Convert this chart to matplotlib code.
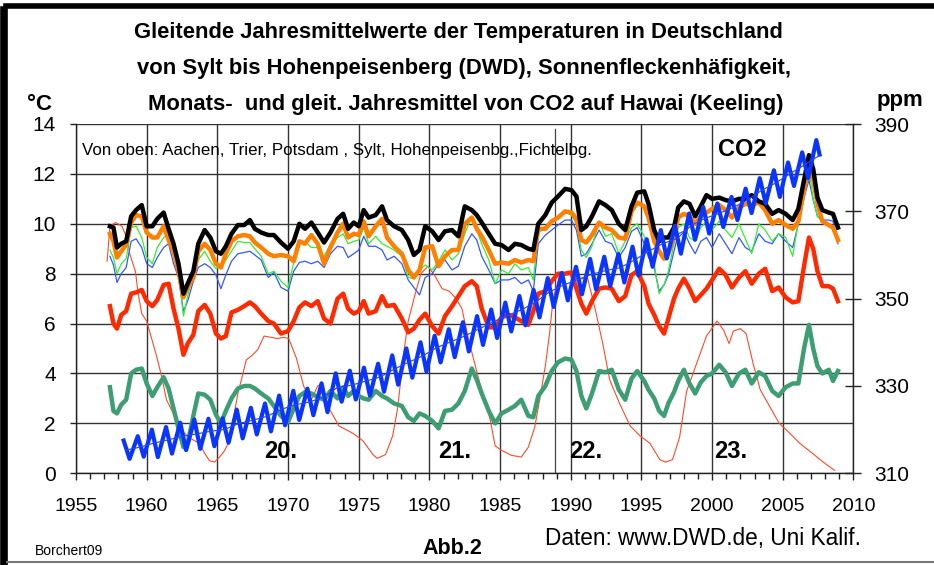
import matplotlib
matplotlib.use("Agg")
import matplotlib.pyplot as plt
from matplotlib.lines import Line2D
from matplotlib.ticker import MultipleLocator

plt.rcParams['font.family'] = ['Liberation Sans', 'DejaVu Sans']

W, H = 934, 565

# common time grid for the temperature curves (decimal years)
t_temp = [1957.4, 1957.65, 1957.9, 1958.2, 1958.55, 1958.9, 1959.25, 1959.65, 1960.0, 1960.4,
          1960.75, 1961.2, 1961.55, 1961.9, 1962.25, 1962.6, 1962.9, 1963.3, 1963.65, 1964.1,
          1964.5, 1964.9, 1965.25, 1965.6, 1966.0, 1966.45, 1966.9, 1967.3, 1967.65, 1968.1,
          1968.6, 1969.0, 1969.5, 1970.0, 1970.4, 1970.8, 1971.2, 1971.65, 1972.1, 1972.55,
          1973.0, 1973.5, 1973.9, 1974.25, 1974.65, 1975.0, 1975.35, 1975.7, 1976.2, 1976.65,
          1977.0, 1977.5, 1978.05, 1978.5, 1978.9, 1979.3, 1979.7, 1980.2, 1980.65, 1981.1,
          1981.6, 1982.05, 1982.5, 1983.0, 1983.35, 1983.7, 1984.2, 1984.65, 1985.1, 1985.6,
          1986.05, 1986.5, 1987.0, 1987.35, 1987.7, 1988.2, 1988.65, 1989.1, 1989.6, 1990.05,
          1990.4, 1990.75, 1991.1, 1991.5, 1992.0, 1992.45, 1992.9, 1993.4, 1993.85, 1994.3,
          1994.7, 1995.2, 1995.5, 1995.9, 1996.25, 1996.6, 1996.9, 1997.3, 1997.6, 1998.0,
          1998.4, 1998.8, 1999.2, 1999.6, 2000.0, 2000.5, 2000.95, 2001.4, 2001.9, 2002.35,
          2002.8, 2003.3, 2003.75, 2004.25, 2004.7, 2005.2, 2005.7, 2006.1, 2006.5, 2006.85,
          2007.15, 2007.45, 2007.8, 2008.25, 2008.55, 2008.9]

aachen = [9.9, 9.85, 9.05, 9.2, 9.3, 10.3, 10.55, 10.75, 9.9, 9.9,
          10.2, 10.45, 9.8, 9.2, 8.4, 7.2, 7.6, 8.1, 9.2, 9.75,
          9.45, 8.9, 8.8, 9.1, 9.6, 9.95, 9.95, 10.15, 9.8, 9.65,
          9.55, 9.55, 9.25, 9.0, 9.3, 10.0, 9.8, 10.05, 9.65, 9.25,
          9.65, 10.2, 10.4, 9.8, 10.05, 9.9, 10.55, 10.25, 10.35, 10.7,
          10.15, 9.9, 9.75, 9.35, 8.75, 8.95, 9.9, 9.7, 9.35, 9.7,
          9.75, 9.5, 10.7, 10.55, 10.35, 10.05, 9.6, 9.2, 9.15, 8.95,
          9.2, 9.15, 9.0, 8.95, 10.0, 10.35, 10.85, 11.1, 11.4, 11.35,
          11.1, 9.75, 9.9, 10.3, 10.9, 10.75, 10.55, 10.0, 9.75, 10.7,
          11.25, 11.3, 10.8, 9.75, 9.3, 9.45, 9.45, 9.85, 10.65, 10.9,
          10.8, 10.3, 10.7, 11.15, 11.0, 11.05, 10.95, 10.9, 11.0, 11.0,
          11.15, 10.9, 10.8, 10.4, 10.55, 10.4, 10.15, 10.6, 11.75, 12.75,
          12.2, 11.05, 10.55, 10.45, 10.4, 9.85]

trier = [9.6, 9.3, 8.65, 8.9, 9.15, 10.05, 10.35, 10.3, 9.65, 9.45,
         9.45, 9.9, 9.35, 8.9, 8.1, 7.05, 7.45, 7.85, 8.9, 9.2,
         8.95, 8.4, 8.25, 8.8, 9.3, 9.5, 9.55, 9.5, 9.25, 9.05,
         8.8, 8.7, 8.75, 8.7, 8.5, 9.3, 9.2, 9.55, 9.2, 8.4,
         9.05, 9.65, 10.0, 9.45, 9.6, 9.55, 10.1, 9.5, 9.9, 10.2,
         9.45, 9.1, 8.8, 8.15, 7.85, 8.15, 9.05, 9.1, 8.3, 8.7,
         8.95, 8.95, 10.0, 10.25, 9.8, 9.5, 8.95, 8.4, 8.45, 8.4,
         8.55, 8.45, 8.55, 8.5, 9.8, 9.8, 10.1, 10.25, 10.5, 10.45,
         10.2, 9.35, 9.25, 9.55, 10.05, 9.85, 9.75, 9.45, 9.4, 10.5,
         10.85, 10.7, 10.25, 9.3, 8.9, 8.6, 8.8, 9.45, 10.25, 10.4,
         10.3, 10.0, 10.3, 10.45, 10.6, 10.75, 10.55, 10.25, 10.65, 10.8,
         10.75, 10.85, 10.55, 10.0, 10.15, 9.95, 9.8, 10.1, 11.35, 12.3,
         11.8, 10.8, 10.1, 9.95, 9.85, 9.35]

potsdam = [8.95, 8.65, 8.0, 8.4, 8.6, 9.85, 9.9, 9.45, 8.65, 8.4,
           9.05, 9.45, 9.6, 8.8, 8.1, 6.3, 7.1, 8.0, 8.55, 8.9,
           8.5, 8.2, 8.3, 8.55, 8.9, 9.3, 9.25, 9.25, 9.0, 8.7,
           8.0, 8.1, 7.7, 7.45, 8.45, 9.2, 9.3, 9.05, 9.05, 8.7,
           9.2, 9.45, 9.6, 9.2, 9.3, 9.35, 9.85, 9.2, 9.5, 9.2,
           9.1, 8.95, 8.7, 7.85, 7.8, 8.15, 8.35, 8.15, 8.5, 8.95,
           8.55, 8.8, 9.6, 10.3, 9.75, 9.2, 8.55, 7.6, 8.15, 8.0,
           8.4, 8.15, 8.25, 7.75, 9.6, 9.9, 10.05, 10.2, 10.45, 10.35,
           10.0, 8.95, 8.65, 9.1, 10.1, 9.5, 9.6, 8.8, 9.3, 9.85,
           10.0, 9.5, 8.95, 8.4, 7.2, 7.55, 8.1, 9.2, 9.85, 10.0,
           9.45, 9.3, 9.85, 10.1, 9.75, 10.1, 9.75, 9.45, 10.0, 9.4,
           8.8, 10.0, 9.75, 9.3, 9.6, 9.45, 8.7, 10.1, 11.5, 12.15,
           11.0, 10.3, 10.05, 9.9, 9.85, 9.45]

sylt = [8.7, 8.35, 7.65, 8.0, 8.25, 9.3, 9.4, 9.05, 8.4, 8.25,
        8.65, 9.05, 9.2, 8.4, 7.85, 6.5, 6.9, 7.7, 8.25, 8.4,
        8.25, 7.95, 7.4, 7.95, 8.5, 8.8, 8.85, 8.9, 8.75, 8.55,
        7.85, 8.05, 7.45, 7.3, 8.1, 8.45, 8.5, 8.4, 8.5, 8.25,
        8.8, 9.1, 9.05, 8.65, 8.8, 8.95, 9.5, 9.1, 9.1, 8.95,
        8.55, 8.7, 8.4, 7.75, 7.45, 7.15, 7.85, 8.0, 8.4, 8.55,
        8.15, 8.3, 9.1, 9.6, 9.35, 8.7, 8.15, 7.6, 7.75, 7.75,
        7.85, 7.6, 7.75, 7.3, 9.2, 9.55, 9.75, 9.95, 10.15, 10.15,
        9.75, 8.7, 8.8, 9.2, 9.75, 9.3, 9.2, 8.65, 9.05, 9.7,
        9.85, 9.2, 8.65, 8.25, 7.3, 7.55, 7.95, 8.9, 9.6, 9.7,
        9.2, 8.8, 9.3, 9.45, 9.05, 9.6, 9.2, 8.8, 9.45, 9.05,
        8.9, 9.6, 9.3, 9.2, 9.6, 9.3, 9.05, 10.0, 11.05, 11.75,
        10.95, 10.3, 10.15, 10.15, 10.1, 9.2]

hohenpeissenberg = [6.7, 6.0, 5.8, 6.35, 6.5, 7.2, 7.25, 7.35, 6.9, 6.7,
                    6.95, 7.55, 7.6, 6.6, 5.8, 4.75, 5.2, 5.55, 6.5, 6.75,
                    6.4, 5.6, 5.4, 5.5, 6.45, 6.55, 6.7, 6.85, 6.7, 6.4,
                    6.1, 6.0, 5.6, 5.7, 6.1, 6.65, 6.85, 6.7, 6.9, 6.2,
                    6.0, 7.0, 7.2, 6.6, 6.4, 6.5, 6.9, 6.4, 6.5, 7.1,
                    6.7, 6.75, 6.2, 5.65, 5.8, 6.15, 6.4, 5.9, 5.6, 6.3,
                    6.7, 7.1, 7.5, 7.7, 7.5, 6.6, 5.85, 5.85, 6.25, 6.35,
                    6.25, 6.1, 5.95, 6.5, 7.2, 7.3, 7.7, 8.0, 8.0, 8.05,
                    7.4, 6.8, 6.4, 6.9, 7.4, 7.45, 7.4, 6.9, 7.1, 7.95,
                    8.1, 7.5, 6.8, 6.35, 5.9, 5.6, 6.2, 7.0, 7.4, 7.8,
                    7.4, 6.9, 7.15, 7.4, 7.75, 8.2, 7.95, 7.45, 7.85, 8.1,
                    7.6, 8.0, 8.2, 7.3, 7.45, 7.05, 6.85, 6.9, 8.3, 9.45,
                    9.0, 8.1, 7.5, 7.5, 7.4, 6.9]

fichtelberg = [3.45, 2.5, 2.4, 2.75, 2.95, 4.0, 4.15, 4.2, 3.6, 3.1,
               3.45, 3.85, 3.4, 2.6, 1.8, 1.05, 1.2, 2.3, 3.2, 3.15,
               2.95, 2.35, 2.0, 2.5, 3.0, 3.4, 3.5, 3.5, 3.4, 3.2,
               3.0, 2.7, 2.3, 2.05, 2.6, 3.1, 3.25, 3.2, 3.05, 2.95,
               3.3, 3.0, 3.45, 3.1, 3.3, 3.1, 3.0, 2.95, 3.3, 3.1,
               3.0, 2.8, 2.7, 2.25, 2.1, 2.4, 2.3, 2.1, 1.8, 2.5,
               2.55, 2.8, 3.3, 4.2, 3.75, 3.2, 2.5, 2.0, 2.4, 2.55,
               2.7, 2.95, 2.3, 2.25, 3.1, 3.5, 4.1, 4.45, 4.6, 4.55,
               4.1, 3.1, 2.6, 3.2, 4.1, 4.05, 4.15, 3.35, 2.95, 3.8,
               4.1, 3.7, 3.35, 3.0, 2.5, 2.3, 2.8, 3.25, 3.7, 4.15,
               3.6, 3.2, 3.65, 3.9, 4.0, 4.35, 4.05, 3.5, 4.0, 4.15,
               3.6, 4.05, 3.9, 3.3, 3.1, 3.45, 3.6, 3.6, 5.0, 5.95,
               5.0, 4.3, 4.0, 4.15, 3.7, 4.1]

# sunspot number, scaled onto the degree axis
sun_years = [1957.2, 1957.4, 1957.8, 1958.25, 1958.6, 1958.8, 1959.2, 1959.4, 1959.65, 1960.0,
             1960.35, 1960.7, 1961.05, 1961.4, 1961.75, 1962.1, 1962.45, 1962.95, 1963.4, 1963.75,
             1964.1, 1964.45, 1964.8, 1965.15, 1965.5, 1965.85, 1966.2, 1966.45, 1966.7, 1967.05,
             1967.4, 1967.85, 1968.3, 1968.8, 1969.25, 1969.7, 1970.05, 1970.6, 1971.1, 1971.6,
             1972.1, 1972.4, 1972.9, 1973.6, 1974.6, 1975.3, 1976.0, 1976.3, 1976.9, 1977.4,
             1977.75, 1978.2, 1978.5, 1979.0, 1979.4, 1979.9, 1980.4, 1980.9, 1981.4, 1981.9,
             1982.3, 1982.75, 1983.0, 1983.5, 1983.9, 1984.3, 1984.65, 1985.1, 1985.8, 1986.5,
             1987.0, 1987.45, 1987.8, 1988.2, 1988.5, 1988.75, 1989.2, 1989.8, 1990.4, 1991.2,
             1991.8, 1992.3, 1992.75, 1993.45, 1994.2, 1994.9, 1995.6, 1996.3, 1996.7, 1997.2,
             1997.7, 1998.2, 1998.9, 1999.6, 2000.1, 2000.35, 2000.8, 2001.2, 2001.5, 2002.0,
             2002.4, 2002.9, 2003.4, 2004.1, 2004.75, 2005.5, 2006.2, 2007.1, 2007.85, 2008.65]
sunspots = [8.5, 9.9, 10.05, 9.9, 9.45, 8.8, 8.1, 7.2, 6.4, 6.1,
            5.4, 4.7, 3.9, 2.95, 2.55, 2.15, 1.75, 1.45, 1.3, 1.2,
            0.8, 0.5, 0.45, 0.65, 0.9, 1.3, 2.4, 3.2, 3.75, 4.55,
            4.7, 4.95, 5.5, 5.45, 5.4, 5.45, 5.4, 4.6, 3.5, 2.9,
            3.5, 3.6, 2.6, 1.9, 1.6, 1.3, 0.75, 0.6, 0.75, 1.5,
            2.6, 4.9, 6.1, 7.2, 8.0, 8.3, 7.9, 7.4, 7.3, 7.0,
            6.6, 5.4, 4.85, 3.75, 2.95, 2.15, 1.1, 0.92, 0.72, 0.65,
            1.05, 1.85, 2.95, 4.3, 5.6, 7.0, 7.9, 8.1, 7.8, 7.8,
            6.4, 5.1, 3.75, 2.8, 1.9, 1.5, 1.2, 0.55, 0.45, 0.55,
            1.45, 3.3, 4.4, 5.5, 5.9, 6.1, 5.75, 5.2, 5.7, 5.8,
            5.6, 4.4, 3.35, 2.65, 2.0, 1.6, 1.2, 0.8, 0.45, 0.12]

# CO2 Mauna Loa (ppm): seasonal maximum (May) and minimum (Oct) per year, annual mean
co2_years = list(range(1958, 2008))
co2_may = [317.5, 318.5, 320.0, 320.6, 321.6, 322.3, 322.5, 322.6, 324.6, 325.0,
           326.0, 327.8, 328.9, 329.4, 330.6, 332.9, 333.5, 334.2, 335.1, 337.0,
           338.6, 340.0, 341.5, 343.0, 344.6, 346.0, 347.5, 349.1, 350.6, 352.0,
           354.7, 355.9, 357.3, 359.1, 359.6, 360.2, 361.9, 363.6, 365.7, 366.7,
           369.5, 371.0, 371.8, 373.3, 375.2, 377.6, 379.4, 381.2, 383.5, 386.3]
co2_oct = [313.3, 313.8, 313.7, 314.5, 315.3, 315.6, 316.2, 317.0, 318.0, 318.9,
           319.6, 321.0, 322.2, 323.3, 324.0, 326.4, 326.9, 327.8, 328.7, 330.3,
           331.9, 333.3, 335.4, 336.6, 337.9, 339.4, 341.0, 342.5, 343.9, 345.7,
           348.1, 349.6, 351.0, 352.1, 352.9, 353.7, 355.3, 357.3, 359.2, 360.3,
           363.5, 364.9, 366.4, 368.0, 369.6, 371.8, 373.3, 375.8, 377.6, 383.0]
co2_mean = [315.3, 315.97, 316.91, 317.64, 318.45, 318.99, 319.62, 320.04, 321.38, 322.16,
            323.04, 324.62, 325.68, 326.32, 327.45, 329.68, 330.18, 331.11, 332.04, 333.83,
            335.4, 336.84, 338.75, 340.11, 341.45, 343.05, 344.65, 346.12, 347.42, 349.19,
            351.57, 353.12, 354.39, 355.61, 356.45, 357.1, 358.83, 360.82, 362.61, 363.73,
            366.7, 368.38, 369.55, 370.9, 372.6, 374.8, 376.5, 378.6, 380.6, 382.6]
co2_last = 2007.6
ppm_ticks = [310, 330, 350, 370, 390]

cycles = ['20.', '21.', '22.', '23.']


def fx(x):
    return x / W


def fy(y):
    return 1 - y / H


fig = plt.figure(figsize=(W / 100, H / 100), dpi=100)
ax = fig.add_axes([fx(76), fy(473.3), fx(853.5) - fx(76), fy(124) - fy(473.3)])

ax.plot(sun_years, sunspots, color='#ff4a2a', lw=0.8, zorder=2)
ax.plot(t_temp, fichtelberg, color='#3c9e72', lw=3.2, zorder=3)
ax.plot(t_temp, hohenpeissenberg, color='#ff2a00', lw=3.2, zorder=3)
ax.plot(t_temp, sylt, color='#3358ff', lw=0.9, zorder=4)
ax.plot(t_temp, potsdam, color='#33ee33', lw=0.9, zorder=4)
ax.plot(t_temp, trier, color='#ff8000', lw=3.2, zorder=5)
ax.plot(t_temp, aachen, color='black', lw=3.2, zorder=6)
ax.axvline(1988.9, ymax=0.985, color='#444444', lw=0.9, zorder=1)

ax.set_xlim(1955, 2010)
ax.set_ylim(0, 14)
ax.xaxis.set_major_locator(MultipleLocator(5))
ax.xaxis.set_minor_locator(MultipleLocator(1))
ax.yaxis.set_major_locator(MultipleLocator(2))
ax.grid(True, which='major', color='#333333', lw=1.0, zorder=0)
ax.set_axisbelow(True)
for s in ['top', 'right']:
    ax.spines[s].set_visible(False)
for s in ['left', 'bottom']:
    ax.spines[s].set_color('#222222')
    ax.spines[s].set_linewidth(1.0)
ax.tick_params(axis='x', which='major', direction='out', length=5, width=1,
               labelsize=14, pad=13, color='#222222')
ax.tick_params(axis='x', which='minor', direction='out', length=4.5, width=1, color='#222222')
ax.tick_params(axis='y', which='major', direction='out', length=4.5, width=1,
               labelsize=15, pad=10, color='#222222')

# CO2 on the right axis
ax2 = ax.twinx()
t_co2, v_co2 = [], []
for i, y in enumerate(co2_years):
    t_co2.append(y + 0.37)
    v_co2.append(co2_may[i])
    t_co2.append(y + 0.79 if i < len(co2_years) - 1 else co2_last)
    v_co2.append(co2_oct[i])
ax2.plot(t_co2, v_co2, color='#0a35ff', lw=3.0, zorder=5)
ax2.plot([y + 0.5 for y in co2_years], co2_mean, color='#2244ff', lw=0.8, zorder=6)
ax2.set_ylim(310, 390)
ax2.set_xlim(1955, 2010)
ax2.set_yticks(ppm_ticks)
for s in ['top', 'left', 'bottom']:
    ax2.spines[s].set_visible(False)
ax2.spines['right'].set_color('#222222')
ax2.spines['right'].set_linewidth(1.0)
ax2.tick_params(axis='y', direction='inout', length=12, width=1,
                labelsize=15, pad=9, color='#222222')

# texts inside the plot
fig.text(fx(82), fy(150), 'Von oben: Aachen, Trier, Potsdam , Sylt, Hohenpeisenbg.,Fichtelbg.',
         fontsize=12.2, va='center', ha='left')
fig.text(fx(742), fy(150), 'CO2', fontsize=17, fontweight='bold', va='center', ha='center')
for lab, xp in zip(cycles, [281, 455, 586, 731]):
    fig.text(fx(xp), fy(451), lab, fontsize=17, fontweight='bold', va='center', ha='center')

# titles and axis units
titles = ['Gleitende Jahresmittelwerte der Temperaturen in Deutschland',
          'von Sylt bis Hohenpeisenberg (DWD), Sonnenfleckenhäfigkeit,',
          'Monats-  und gleit. Jahresmittel von CO2 auf Hawai (Keeling)']
for line, yb, xc in zip(titles, [38, 74, 110], [458, 464, 466]):
    fig.text(fx(xc), fy(yb), line, fontsize=15.8, fontweight='bold', ha='center', va='baseline')
fig.text(fx(27), fy(110), '°C', fontsize=16, fontweight='bold', ha='left', va='baseline')
fig.text(fx(877), fy(106), 'ppm', fontsize=16, fontweight='bold', ha='left', va='baseline')

fig.text(fx(35), fy(551), 'Borchert09', fontsize=10, ha='left', va='center')
fig.text(fx(452), fy(549), 'Abb.2', fontsize=15.5, fontweight='bold', ha='center', va='center')
fig.text(fx(545), fy(538), 'Daten: www.DWD.de, Uni Kalif.', fontsize=16.3, ha='left', va='center')

# outer frame of the chart
fig.add_artist(Line2D([fx(6), fx(934)], [fy(6), fy(6)], color='black', lw=4))
fig.add_artist(Line2D([fx(3.5), fx(3.5)], [fy(10), fy(565)], color='black', lw=5.5))
fig.add_artist(Line2D([fx(7), fx(934)], [fy(562), fy(562)], color='#777777', lw=1.5))

fig.savefig('out.png', dpi=100)
